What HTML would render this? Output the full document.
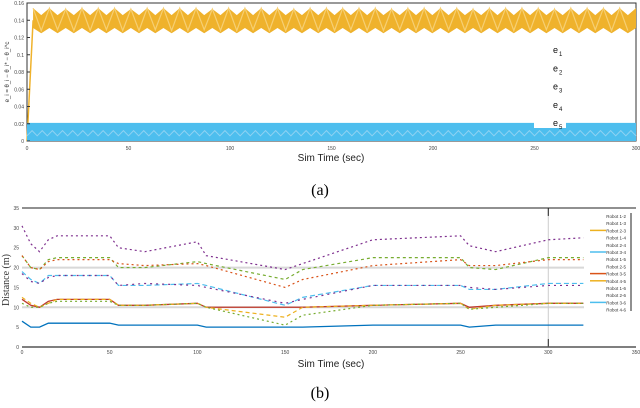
<!DOCTYPE html>
<html><head><meta charset="utf-8"><style>
body{margin:0;background:#fff;width:640px;height:408px;overflow:hidden;font-family:"Liberation Sans",sans-serif}
svg{position:absolute;left:0;top:0}
</style></head><body>
<svg id="s" width="640" height="408" xmlns="http://www.w3.org/2000/svg"></svg>
<script>
// ---- chart (a) data ----
const aTicksX=[0,50,100,150,200,250,300];
const aTicksY=[0,0.02,0.04,0.06,0.08,0.1,0.12,0.14,0.16];
const e1Peaks=[0.154,0.154,0.153,0.154,0.154,0.154,0.153,0.154,0.154,0.154,0.154,0.153,0.154,0.154,0.154,0.154,0.153,0.154,0.154,0.154,0.154,0.154,0.153,0.154,0.154,0.154,0.154,0.153,0.154,0.154,0.154,0.154,0.153,0.154,0.154,0.154,0.154];
const e1Troughs=[0.128,0.129,0.128,0.128,0.129,0.128,0.128,0.129,0.128,0.128,0.129,0.128,0.128,0.129,0.128,0.128,0.129,0.128,0.128,0.129,0.128,0.128,0.129,0.128,0.128,0.129,0.128,0.128,0.129,0.128,0.128,0.129,0.128,0.128,0.129,0.128,0.128];
const e1TopDip=0.146;
const e1Bottom=0.125;
const e1BottomBump=0.131;
const e5Top=0.021;
const legendA=["e1","e2","e3","e4","e5"];
// ---- chart (b) data ----
const bTicksX=[0,50,100,150,200,250,300,350];
const bTicksY=[0,5,10,15,20,25,30,35];
const bTime=[0,5,10,15,20,50,55,70,100,105,150,160,200,250,255,270,300,320];
const sPurple=[30.5,26,24,27,28,28,25,24,26.5,23,19.5,21,27,28,25.5,24,27,27.5];
const sGreen=[23,20,19.5,22,22.5,22.5,20,20,21.5,21,17,19.5,22.5,22.5,20,19.5,22.5,22.5];
const sRed=[23,20,19.5,21.5,22,22,21,20.5,21,20.5,15,17,20.5,22,20.5,20.5,22,22];
const sBlue=[19,17,16,18,18,18,15.5,15.5,16,15.5,10.5,12.5,15.5,15.5,14.5,14.5,16,16];
const sPurple2=[18.5,16.5,16,17.5,18,18,15.5,16,15.5,15,11,12,15.5,15.5,15,14.5,15.5,15.5];
const sRed2=[12,10.5,10,11.5,12,12,10.5,10.5,11,10,10,10,10.5,11,10,10.5,11,11];
const sOrange=[12.5,11,10,11,12,12,10.5,10.5,11,10,7.5,10,10.5,11,9.5,10.5,11,11];
const sGreen2=[11,10,10,11,11.5,11.5,10.5,10.5,11,10,5.5,8,10.5,11,9.5,10,11,11];
const sBlue2=[6.5,5,5,6,6,6,5.5,5.5,5.5,5,5,5,5.5,5.5,5,5.5,5.5,5.5];
const bSeries=[[sPurple,"#7E2F8E","2,3"],[sGreen,"#77AC30","3,3"],[sRed,"#D95319","2,3"],[sBlue,"#4DBEEE","5,3"],[sPurple2,"#7E2F8E","2,4"],[sRed2,"#C0392B",""],[sOrange,"#EDB120","4,3"],[sGreen2,"#77AC30","2,3"],[sBlue2,"#0072BD",""]];
const legendB=["Robot 1-2","Robot 1-3","Robot 2-3","Robot 1-4","Robot 2-4","Robot 3-4","Robot 1-5","Robot 2-5","Robot 3-5","Robot 4-5","Robot 1-6","Robot 2-6","Robot 3-6","Robot 4-6"];

const S=document.getElementById('s');const NS="http://www.w3.org/2000/svg";
function mk(t,a,txt){const e=document.createElementNS(NS,t);for(const k in a)e.setAttribute(k,a[k]);if(txt!=null)e.textContent=txt;S.appendChild(e);return e;}
// (a) axes
const ax=v=>27+v*(609/300), ay=v=>141-v*(138/0.16);
let fr=mk('rect',{x:27,y:3,width:609,height:138,fill:'none',stroke:'#333','stroke-width':1});

// yellow band
let n=e1Peaks.length, bandTop=[], bandBot=[], zp=[];
const step=297/n;
for(let i=0;i<n;i++){const t0=3+i*step;
bandTop.push([ax(t0),ay(e1Peaks[i])]);bandTop.push([ax(t0+step/2),ay(e1TopDip)]);
bandBot.push([ax(t0),ay(e1BottomBump)]);bandBot.push([ax(t0+step/2),ay(e1Bottom)]);
zp.push([ax(t0),ay(e1Peaks[i])]);zp.push([ax(t0+step/2),ay(e1Troughs[i])]);}
bandTop.push([ax(300),ay(e1Peaks[n-1])]);bandBot.push([ax(300),ay(e1BottomBump)]);
let poly=bandTop.concat(bandBot.reverse());
let band=mk('polygon',{points:poly.map(p=>p.join(',')).join(' '),fill:'#EFB22C'});

let zz=mk('polyline',{points:zp.map(p=>p.join(',')).join(' '),fill:'none',stroke:'#F6CF73','stroke-width':1.2});

let rise=mk('polyline',{points:[[ax(0),ay(0)],[ax(1.5),ay(0.07)],[ax(3),ay(0.14)]].map(p=>p.join(',')).join(' '),fill:'none',stroke:'#EFB22C','stroke-width':1.5});

// blue band
let bb=mk('rect',{x:ax(0),y:ay(e5Top),width:ax(300)-ax(0),height:ay(0)-ay(e5Top),fill:'#4DBEEE'});

let bz='';for(let i=0;i<=120;i++){bz+=ax(i*2.5)+','+ay(i%2?0.012:0.006)+' ';}
let bl=mk('polyline',{points:bz,fill:'none',stroke:'#8FD2F2','stroke-width':1});

aTicksX.forEach(v=>{let t=mk('text',{x:ax(v),y:150,'font-size':5,'text-anchor':'middle',fill:'#444'},v);
});
aTicksY.forEach(v=>{let t=mk('text',{x:24,y:ay(v)+2,'font-size':5,'text-anchor':'end',fill:'#444'},+v.toFixed(2));

mk('line',{x1:27,x2:30,y1:ay(v),y2:ay(v),stroke:'#333'});});
let lb=mk('rect',{x:534,y:40,width:32,height:88,fill:'#fff'});

legendA.forEach((l,i)=>{let t=mk('text',{x:553,y:53+i*18.3,'font-size':9,fill:'#111'},'e');

mk('text',{x:559,y:56+i*18.3,'font-size':6,fill:'#111'},l.slice(1));});
let xt=mk('text',{x:331,y:161,'font-size':10,'text-anchor':'middle',fill:'#222'},'Sim Time (sec)');

let yt=mk('text',{x:0,y:0,'font-size':6,'text-anchor':'middle',fill:'#333',transform:'translate(9,72) rotate(-90)'},'e_i = θ_i − θ_i* − θ_i^c');

let ca=mk('text',{x:320,y:195,'font-size':16,'text-anchor':'middle','font-family':'Liberation Serif,serif'},'(a)');

// (b)
const bx=v=>22+v*(614/350), by=v=>347-v*(139/35);
[10,20].forEach(v=>{let g=mk('line',{x1:22,x2:584,y1:by(v),y2:by(v),stroke:'#d8d8d8','stroke-width':2});
});
let vl=mk('line',{x1:bx(300),x2:bx(300),y1:by(35),y2:by(0),stroke:'#ccc'});

mk('line',{x1:bx(300),x2:bx(300),y1:by(35),y2:by(33),stroke:'#222','stroke-width':1});
mk('line',{x1:bx(300),x2:bx(300),y1:by(0),y2:by(2),stroke:'#222','stroke-width':1});
mk('line',{x1:22,x2:636,y1:by(35),y2:by(35),stroke:'#222','stroke-width':1});
mk('line',{x1:22,x2:636,y1:by(0),y2:by(0),stroke:'#555','stroke-width':1.5});
bSeries.forEach((s,k)=>{let p=bTime.map((t,i)=>bx(t)+','+by(s[0][i])).join(' ');
let l=mk('polyline',{points:p,fill:'none',stroke:s[1],'stroke-width':s[2]?1.2:1.3,'stroke-dasharray':s[2]});
});
bTicksX.forEach(v=>{let t=mk('text',{x:bx(v),y:354,'font-size':5,'text-anchor':'middle',fill:'#444'},v);
});
bTicksY.forEach(v=>{let t=mk('text',{x:19,y:by(v)+2,'font-size':5,'text-anchor':'end',fill:'#444'},v);
});
const lcol={2:'#EDB120',5:'#4DBEEE',8:'#D95319',9:'#EDB120',12:'#4DBEEE'};
legendB.forEach((l,i)=>{let y=216+i*7.2;let t=mk('text',{x:626,y:y+2,'font-size':4.5,'text-anchor':'end',fill:'#333'},l);

if(lcol[i])mk('line',{x1:590,x2:606,y1:y,y2:y,stroke:lcol[i],'stroke-width':1.5});});
mk('line',{x1:631,x2:631,y1:213,y2:311,stroke:'#222'});
let xb=mk('text',{x:331,y:367,'font-size':10,'text-anchor':'middle',fill:'#222'},'Sim Time (sec)');

let yb=mk('text',{x:0,y:0,'font-size':10,'text-anchor':'middle','font-family':'Liberation Serif,serif',fill:'#333',transform:'translate(9,280) rotate(-90)'},'Distance (m)');

let cb=mk('text',{x:320,y:398,'font-size':16,'text-anchor':'middle','font-family':'Liberation Serif,serif'},'(b)');

</script>
</body></html>
